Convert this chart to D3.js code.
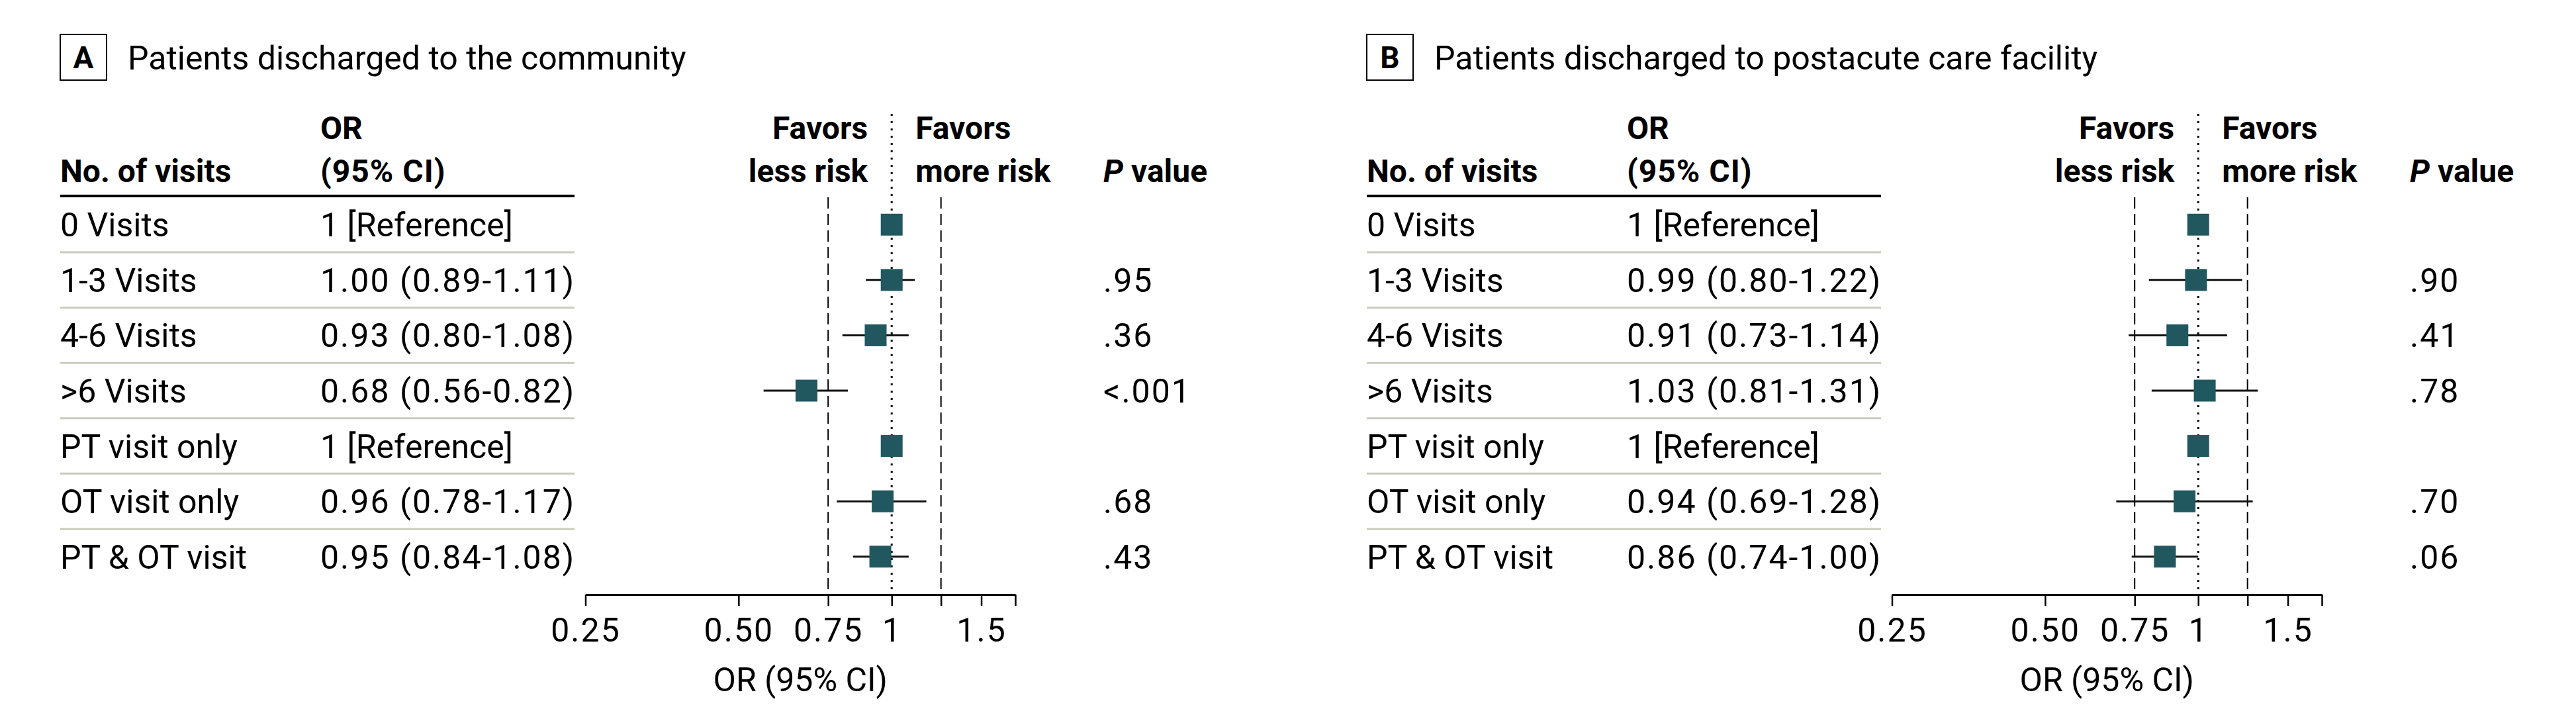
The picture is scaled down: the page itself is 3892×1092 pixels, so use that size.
<!DOCTYPE html>
<html><head><meta charset="utf-8">
<script src="https://cdn.jsdelivr.net/npm/d3@7"></script>
<style>
html,body{margin:0;padding:0;background:#fff;}
svg{display:block;font-family:Roboto, "Open Sans", sans-serif;}
</style></head>
<body>
<svg id="chart" width="3892" height="1092"></svg>
<script>
// ---------- data ----------
const rowLabels = ["0 Visits","1-3 Visits","4-6 Visits",">6 Visits","PT visit only","OT visit only","PT & OT visit"];
const isReference = [true,false,false,false,true,false,false];

const orA   = [1, 1.00, 0.93, 0.68, 1, 0.96, 0.95];
const loA   = [null, 0.89, 0.80, 0.56, null, 0.78, 0.84];
const hiA   = [null, 1.11, 1.08, 0.82, null, 1.17, 1.08];
const orTextA = ["1 [Reference]","1.00 (0.89-1.11)","0.93 (0.80-1.08)","0.68 (0.56-0.82)","1 [Reference]","0.96 (0.78-1.17)","0.95 (0.84-1.08)"];
const pA    = ["",".95",".36","<.001","",".68",".43"];

const orB   = [1, 0.99, 0.91, 1.03, 1, 0.94, 0.86];
const loB   = [null, 0.80, 0.73, 0.81, null, 0.69, 0.74];
const hiB   = [null, 1.22, 1.14, 1.31, null, 1.28, 1.00];
const orTextB = ["1 [Reference]","0.99 (0.80-1.22)","0.91 (0.73-1.14)","1.03 (0.81-1.31)","1 [Reference]","0.94 (0.69-1.28)","0.86 (0.74-1.00)"];
const pB    = ["",".90",".41",".78","",".70",".06"];

const tickValues = [0.25, 0.5, 0.75, 1, 1.25, 1.5, 1.75];
const tickLabels = ["0.25","0.50","0.75","1","","1.5",""];
const axisDomain = [0.25, 1.75];
const dashedRefs = [0.75, 1.25];
const nullValue = 1;

const panels = [
  {letter:"A", title:"Patients discharged to the community", or:orA, lo:loA, hi:hiA, orText:orTextA, p:pA, dx:0},
  {letter:"B", title:"Patients discharged to postacute care facility", or:orB, lo:loB, hi:hiB, orText:orTextB, p:pB, dx:1974}
];

// ---------- drawing ----------
const svg = d3.select("#chart");
svg.append("rect").attr("width",3892).attr("height",1092).attr("fill","#fff");

const FONT = "Roboto, 'Open Sans', sans-serif";
const markColor = "#21575f";
const sepColor = "#c9ccbb";
const fsRow = 50, fsHead = 48, fsTitle = 50;
const numSpacing = 2;

panels.forEach(P => {
  const g = svg.append("g").attr("transform",`translate(${P.dx},0)`);

  const x = d3.scaleLog().base(2).domain(axisDomain).range([884.5, 1534]);
  const y = d3.scaleBand().domain(d3.range(rowLabels.length)).range([297.5, 882.5]);
  const yc = i => y(i) + y.bandwidth()/2;

  // title
  g.append("rect").attr("x",91).attr("y",52).attr("width",70).attr("height",69)
    .attr("fill","none").attr("stroke","#000").attr("stroke-width",2);
  g.append("text").attr("x",126).attr("y",103).attr("text-anchor","middle")
    .attr("font-size",46).attr("font-weight",700).text(P.letter);
  g.append("text").attr("x",193).attr("y",105).attr("font-size",fsTitle).text(P.title);

  // headers
  const hd = g.append("g").attr("font-size",fsHead).attr("font-weight",700).attr("fill","#000");
  hd.append("text").attr("x",91).attr("y",275).text("No. of visits");
  hd.append("text").attr("x",484).attr("y",210).text("OR");
  hd.append("text").attr("x",484).attr("y",275).attr("letter-spacing",1).text("(95% CI)");
  hd.append("text").attr("x",x(nullValue)-36).attr("y",210).attr("text-anchor","end").text("Favors");
  hd.append("text").attr("x",x(nullValue)-36).attr("y",275).attr("text-anchor","end").text("less risk");
  hd.append("text").attr("x",x(nullValue)+36).attr("y",210).text("Favors");
  hd.append("text").attr("x",x(nullValue)+36).attr("y",275).text("more risk");
  const pv = hd.append("text").attr("x",1667).attr("y",275);
  pv.append("tspan").attr("font-style","italic").text("P");
  pv.append("tspan").text(" value");

  // thick header rule
  g.append("line").attr("x1",91).attr("x2",868).attr("y1",296).attr("y2",296)
    .attr("stroke","#000").attr("stroke-width",4);

  // row separators
  g.selectAll("line.sep").data(d3.range(1,rowLabels.length)).join("line").attr("class","sep")
    .attr("x1",91).attr("x2",868).attr("y1",i=>y(i)).attr("y2",i=>y(i))
    .attr("stroke",sepColor).attr("stroke-width",3);

  // row text
  g.selectAll("text.lab").data(rowLabels).join("text").attr("class","lab")
    .attr("x",91).attr("y",(d,i)=>yc(i)+18).attr("font-size",fsRow).text(d=>d);
  g.selectAll("text.ort").data(P.orText).join("text").attr("class","ort")
    .attr("x",484).attr("y",(d,i)=>yc(i)+18).attr("font-size",fsRow)
    .attr("letter-spacing",(d,i)=>isReference[i]?0:numSpacing).text(d=>d);
  g.selectAll("text.pv").data(P.p).join("text").attr("class","pv")
    .attr("x",1667).attr("y",(d,i)=>yc(i)+18).attr("font-size",fsRow)
    .attr("letter-spacing",numSpacing).text(d=>d);

  // reference lines
  g.selectAll("line.dash").data(dashedRefs).join("line").attr("class","dash")
    .attr("x1",d=>x(d)).attr("x2",d=>x(d)).attr("y1",298).attr("y2",898)
    .attr("stroke","#000").attr("stroke-width",2).attr("stroke-dasharray","17 8");
  g.append("line").attr("x1",x(nullValue)).attr("x2",x(nullValue)).attr("y1",172).attr("y2",898)
    .attr("stroke","#000").attr("stroke-width",3).attr("stroke-dasharray","3 8");

  // CI lines
  const idx = d3.range(rowLabels.length).filter(i => !isReference[i]);
  g.selectAll("line.ci").data(idx).join("line").attr("class","ci")
    .attr("x1",i=>x(P.lo[i])).attr("x2",i=>x(P.hi[i])).attr("y1",yc).attr("y2",yc)
    .attr("stroke","#111").attr("stroke-width",3);

  // markers
  const s = 33;
  g.selectAll("rect.mk").data(d3.range(rowLabels.length)).join("rect").attr("class","mk")
    .attr("x",i=>x(P.or[i])-s/2).attr("y",i=>yc(i)-s/2).attr("width",s).attr("height",s)
    .attr("fill",markColor);

  // axis
  const ax = g.append("g").attr("transform","translate(0,898)")
    .call(d3.axisBottom(x).tickValues(tickValues).tickFormat((d,i)=>tickLabels[i])
      .tickSize(17).tickSizeOuter(0).tickPadding(18));
  ax.select(".domain").attr("stroke","#000").attr("stroke-width",3);
  ax.selectAll(".tick line").attr("stroke","#000").attr("stroke-width",2.5);
  ax.selectAll(".tick text").attr("font-size",fsRow).attr("font-family",FONT)
    .attr("letter-spacing",numSpacing).attr("fill","#000");

  g.append("text").attr("x",(x.range()[0]+x.range()[1])/2).attr("y",1044).attr("text-anchor","middle")
    .attr("font-size",fsRow).text("OR (95% CI)");
});
</script>
</body></html>
